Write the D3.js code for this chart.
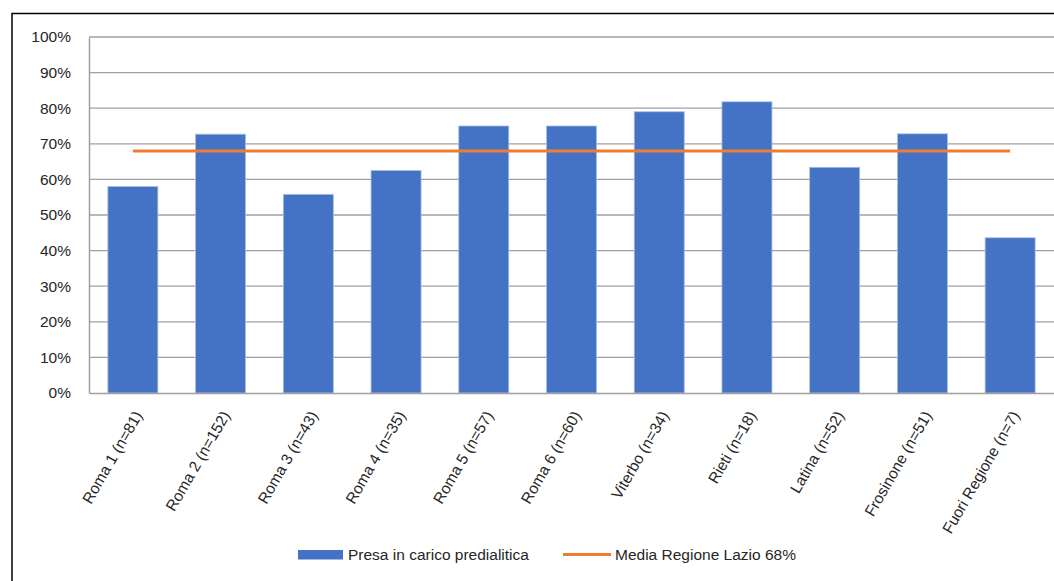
<!DOCTYPE html>
<html><head><meta charset="utf-8">
<script src="https://cdn.jsdelivr.net/npm/d3@7"></script>
<style>body{margin:0;background:#fff}svg{display:block}text{font-family:"Liberation Sans",Arial,sans-serif}</style>
</head><body>
<svg id="c" width="1054" height="581"></svg>
<script>
const categories = ["Roma 1 (n=81)","Roma 2 (n=152)","Roma 3 (n=43)","Roma 4 (n=35)","Roma 5 (n=57)","Roma 6 (n=60)","Viterbo (n=34)","Rieti (n=18)","Latina (n=52)","Frosinone (n=51)","Fuori Regione (n=7)"];
const presaValues = [58.0, 72.7, 55.8, 62.5, 75.0, 75.0, 79.0, 81.8, 63.4, 72.8, 43.6];
const mediaValue = 68;
const yTicks = [0,10,20,30,40,50,60,70,80,90,100];
const seriesNames = ["Presa in carico predialitica","Media Regione Lazio 68%"];

const svg = d3.select("#c");
const m = {left:89, top:37, right:1054, bottom:393};
const x = d3.scaleBand().domain(categories).range([m.left, m.right]).paddingInner(0.43).paddingOuter(0.215);
const y = d3.scaleLinear().domain([0,100]).range([m.bottom, m.top]);
const FS = 15.5, TXT = "#262626";

// frame
svg.append("rect").attr("x",12).attr("y",13.5).attr("width",1100).attr("height",700)
  .attr("fill","none").attr("stroke","#000").attr("stroke-width",1.5);

// gridlines
svg.append("g").selectAll("line").data(yTicks.filter(t=>t>0)).join("line")
  .attr("x1",m.left).attr("x2",m.right).attr("y1",d=>y(d)).attr("y2",d=>y(d))
  .attr("stroke","#a0a0a0").attr("stroke-width",1.3);

// y axis
const yAxis = svg.append("g").attr("transform",`translate(${m.left},0)`)
  .call(d3.axisLeft(y).tickValues(yTicks).tickFormat(d=>d+"%").tickSize(0).tickPadding(18));
yAxis.select(".domain").attr("stroke","#a0a0a0").attr("stroke-width",1.5);
yAxis.selectAll("text").attr("font-size",FS).attr("fill",TXT);

// bars
svg.append("g").selectAll("rect").data(presaValues).join("rect")
  .attr("x",(d,i)=>x(categories[i])).attr("width",x.bandwidth())
  .attr("y",d=>y(d)).attr("height",d=>y(0)-y(d))
  .attr("fill","#4472C4").attr("stroke","#a9bfe6").attr("stroke-width",0.8);

// x axis
const xAxis = svg.append("g").attr("transform",`translate(0,${m.bottom})`)
  .call(d3.axisBottom(x).tickSize(0).tickPadding(0));
xAxis.select(".domain").attr("stroke","#a0a0a0").attr("stroke-width",1.5);
xAxis.selectAll("text").attr("font-size",FS).attr("fill",TXT)
  .attr("text-anchor","end").attr("dy",null).attr("y",null)
  .attr("transform","translate(10,22) rotate(-60)");

// mean line
const line = d3.line().x(d=>x(d)+x.bandwidth()/2).y(()=>y(mediaValue));
svg.append("path").datum([categories[0], categories[categories.length-1]])
  .attr("d",line).attr("stroke","#ED7D31").attr("stroke-width",3).attr("fill","none");

// legend
const lg = svg.append("g");
lg.append("rect").attr("x",298).attr("y",550).attr("width",45).attr("height",9.5).attr("fill","#4472C4");
lg.append("text").attr("x",348).attr("y",560).attr("font-size",FS).attr("fill",TXT).text(seriesNames[0]);
lg.append("line").attr("x1",563).attr("x2",611).attr("y1",554.5).attr("y2",554.5).attr("stroke","#ED7D31").attr("stroke-width",3);
lg.append("text").attr("x",615).attr("y",560).attr("font-size",FS).attr("fill",TXT).text(seriesNames[1]);
</script>
</body></html>
